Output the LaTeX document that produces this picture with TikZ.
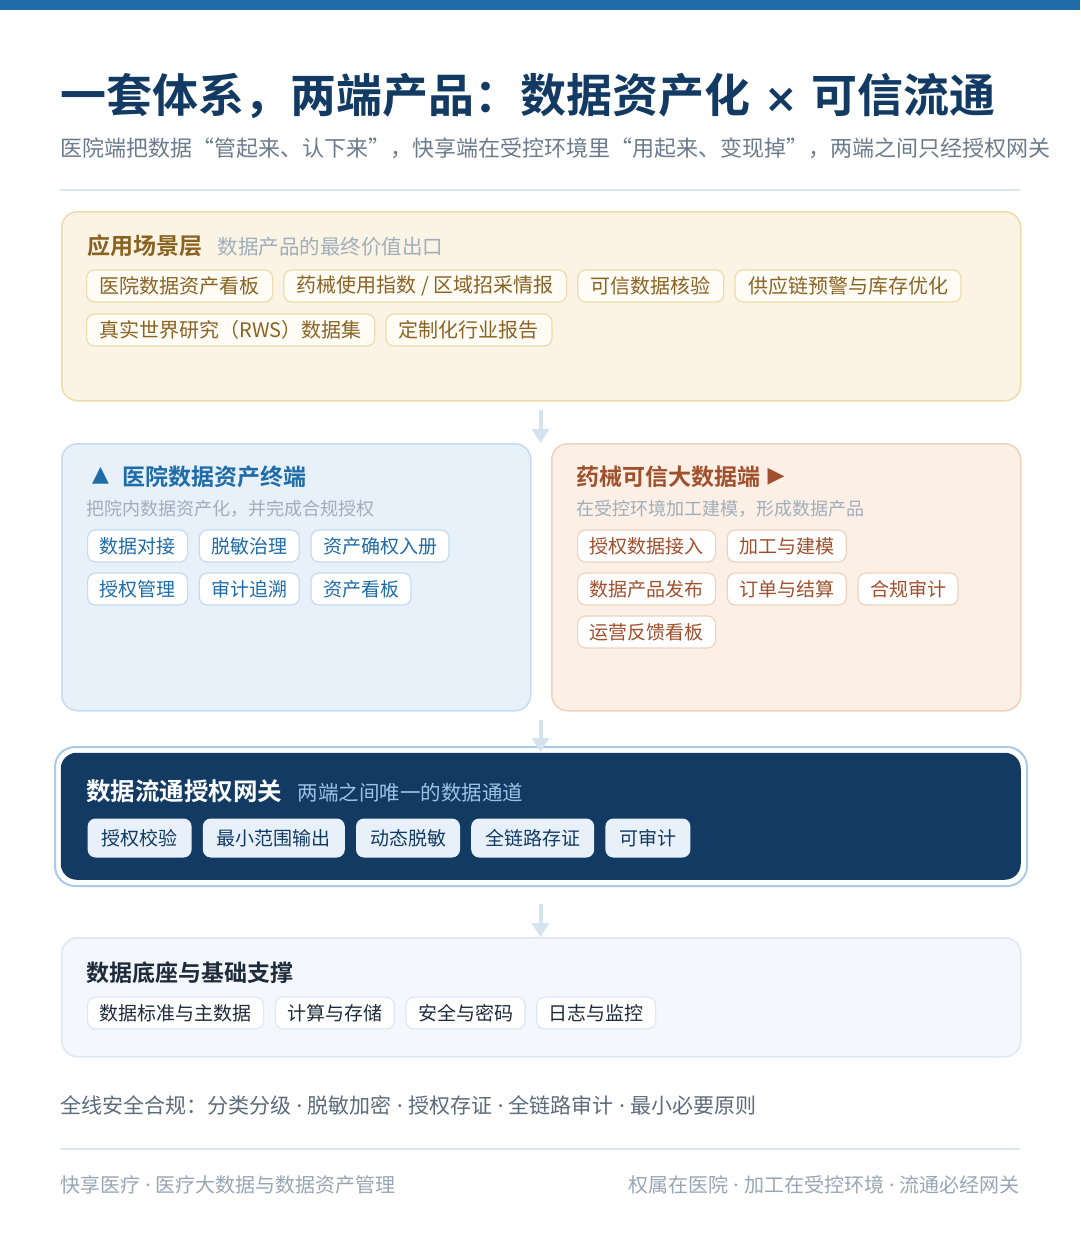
\documentclass[tikz,border=0pt]{standalone}
\usepackage{fontspec}
\setmainfont{Noto Sans CJK SC}[BoldFont={Noto Sans CJK SC Bold}]
\newfontfamily\symfont{DejaVu Sans}
\newfontfamily\latinfont{Noto Sans}
\usetikzlibrary{positioning,arrows.meta}
\newcommand\fsz[1]{\fontsize{#1pt}{#1pt}\selectfont}
\newcommand\mdot{{\latinfont\ ·\ }}

\definecolor{barblue}{HTML}{1F6CA8}
\definecolor{navy}{HTML}{123A63}
\definecolor{subgray}{HTML}{6B7B8C}
\definecolor{ruleln}{HTML}{DCE6F0}
\definecolor{arrowc}{HTML}{D5E3F0}
\definecolor{mutegray}{HTML}{A0AEBB}
\definecolor{appbg}{HTML}{FBF4E4}
\definecolor{appln}{HTML}{EDDBAA}
\definecolor{apptx}{HTML}{8A6323}
\definecolor{appfill}{HTML}{FFFCF6}
\definecolor{hosbg}{HTML}{E8F0FA}
\definecolor{hosln}{HTML}{C5DBF0}
\definecolor{hostx}{HTML}{1F6CA8}
\definecolor{phabg}{HTML}{FCF0E6}
\definecolor{phaln}{HTML}{EED2BC}
\definecolor{phatx}{HTML}{A0502D}
\definecolor{ringln}{HTML}{A9CBE6}
\definecolor{gatesub}{HTML}{9EC2E4}
\definecolor{basebg}{HTML}{F4F8FC}
\definecolor{baseln}{HTML}{DCE7F2}
\definecolor{basetx}{HTML}{1E2B3A}
\definecolor{foottx}{HTML}{5C6B7A}
\definecolor{footgray}{HTML}{97A6B5}

\begin{document}
\begin{tikzpicture}[x=1pt,y=-1pt,
    panel/.style={draw, rounded corners=16pt, line width=1.5pt, anchor=north west, inner sep=0pt},
    chip/.style={draw, fill=white, rounded corners=8pt, line width=1.2pt, minimum height=32pt, inner xsep=12pt, inner ysep=0pt, font=\fsz{19}},
    appchip/.style={chip, draw=appln, fill=appfill, text=apptx, font=\fsz{20}, inner xsep=13pt},
    hoschip/.style={chip, draw=hosln, text=hostx},
    phachip/.style={chip, draw=phaln, text=phatx},
    gatechip/.style={chip, draw=none, fill=hosbg, text=navy, minimum height=39pt, inner xsep=14pt},
    basechip/.style={chip, draw=baseln, text=basetx},
    head/.style={anchor=west, inner sep=0pt, font=\fsz{23}\bfseries},
    note/.style={inner sep=0pt, font=\fsz{18}, text=mutegray},
    txt/.style={anchor=west, inner sep=0pt},
    flow/.style={line width=4pt, draw=arrowc, -{Triangle[length=14pt,width=17pt]}}]
  \useasboundingbox (0,0) rectangle (1080,1240);
  \fill[barblue] (0,0) rectangle (1080,10);

  \node[txt, font=\fsz{46}\bfseries, text=navy] (title) at (60,96) {一套体系，两端产品：数据资产化{\symfont\fsz{40}\bfseries\hspace{14pt}×\hspace{14pt}}可信流通};
  \node[txt, font=\fsz{22}, text=subgray] (subtitle) at (60,148) {医院端把数据“管起来、认下来”，快享端在受控环境里“用起来、变现掉”，两端之间只经授权网关};
  \draw[color=ruleln, line width=2pt] (60,190) -- (1020,190);

  \node[panel, fill=appbg, draw=appln, minimum width=959pt, minimum height=189pt] (app) at (61,211) {};
  \node[head, text=apptx] (apphead) at (87,246) {应用场景层};
  \node[note, font=\fsz{20.5}, base right=15pt of apphead] (appnote) {数据产品的最终价值出口};
  \node[appchip, anchor=west] (a1) at (86,286) {医院数据资产看板};
  \node[appchip, right=10pt of a1] (a2) {药械使用指数 / 区域招采情报};
  \node[appchip, right=10pt of a2] (a3) {可信数据核验};
  \node[appchip, right=10pt of a3] (a4) {供应链预警与库存优化};
  \node[appchip, anchor=west] (a5) at (86,330) {真实世界研究（RWS）数据集};
  \node[appchip, right=10pt of a5] (a6) {定制化行业报告};

  \node[panel, fill=hosbg, draw=hosln, minimum width=469pt, minimum height=267pt] (hos) at (61,443) {};
  \node[inner sep=0pt, font=\symfont\fsz{22}, text=hostx] (hostri) at (100.5,476) {▲};
  \node[head, text=hostx] (hoshead) at (122,477) {医院数据资产终端};
  \node[note, anchor=west] (hosnote) at (86,509) {把院内数据资产化，并完成合规授权};
  \node[hoschip, anchor=west] (h1) at (87,546) {数据对接};
  \node[hoschip, right=10.5pt of h1] (h2) {脱敏治理};
  \node[hoschip, right=10.5pt of h2] (h3) {资产确权入册};
  \node[hoschip, anchor=west] (h4) at (87,589) {授权管理};
  \node[hoschip, right=10.5pt of h4] (h5) {审计追溯};
  \node[hoschip, right=10.5pt of h5] (h6) {资产看板};

  \node[panel, fill=phabg, draw=phaln, minimum width=469pt, minimum height=267pt] (pha) at (551,443) {};
  \node[head, text=phatx] (phahead) at (576,477) {药械可信大数据端};
  \node[inner sep=0pt, font=\symfont\fsz{22}, text=phatx, right=7pt of phahead] (phatri) {▶};
  \node[note, anchor=west] (phanote) at (576,509) {在受控环境加工建模，形成数据产品};
  \node[phachip, anchor=west] (p1) at (577,546) {授权数据接入};
  \node[phachip, right=10.5pt of p1] (p2) {加工与建模};
  \node[phachip, anchor=west] (p3) at (577,589) {数据产品发布};
  \node[phachip, right=10.5pt of p3] (p4) {订单与结算};
  \node[phachip, right=10.5pt of p4] (p5) {合规审计};
  \node[phachip, anchor=west] (p6) at (577,632) {运营反馈看板};

  \node[panel, fill=white, draw=ringln, line width=2pt, rounded corners=20pt, minimum width=972pt, minimum height=139pt] (gateout) at (54,746) {};
  \node[panel, fill=navy, draw=none, minimum width=960pt, minimum height=127pt] (gate) at (60,752) {};
  \node[head, text=white, font=\fsz{24.5}\bfseries] (gatehead) at (86,791) {数据流通授权网关};
  \node[note, text=gatesub, font=\fsz{20.5}, base right=15pt of gatehead] (gatenote) {两端之间唯一的数据通道};
  \node[gatechip, anchor=west] (g1) at (87,838) {授权校验};
  \node[gatechip, right=10pt of g1] (g2) {最小范围输出};
  \node[gatechip, right=10pt of g2] (g3) {动态脱敏};
  \node[gatechip, right=10pt of g3] (g4) {全链路存证};
  \node[gatechip, right=10pt of g4] (g5) {可审计};

  \node[panel, fill=basebg, draw=baseln, minimum width=959pt, minimum height=119pt] (base) at (61,937) {};
  \node[head, text=basetx] (basehead) at (86,973) {数据底座与基础支撑};
  \node[basechip, anchor=west] (b1) at (87,1013) {数据标准与主数据};
  \node[basechip, right=10.5pt of b1] (b2) {计算与存储};
  \node[basechip, right=10.5pt of b2] (b3) {安全与密码};
  \node[basechip, right=10.5pt of b3] (b4) {日志与监控};

  \coordinate (mid) at (540.5,0);
  \draw[flow, shorten <=8pt] (app.south -| mid) -- (hos.north -| mid);
  \draw[flow, shorten <=8pt] (hos.south -| mid) -- (gate.north -| mid);
  \draw[flow, shorten <=17pt] (gateout.south -| mid) -- (base.north -| mid);

  \node[txt, font=\fsz{21}, text=foottx] (rules) at (60,1105) {全线安全合规：分类分级\mdot 脱敏加密\mdot 授权存证\mdot 全链路审计\mdot 最小必要原则};
  \draw[color=ruleln, line width=2pt] (60,1149) -- (1020,1149);
  \node[txt, font=\fsz{20}, text=footgray] (footl) at (60,1185) {快享医疗\mdot 医疗大数据与数据资产管理};
  \node[anchor=east, inner sep=0pt, font=\fsz{20}, text=footgray] (footr) at (1020,1185) {权属在医院\mdot 加工在受控环境\mdot 流通必经网关};
\end{tikzpicture}
\end{document}
